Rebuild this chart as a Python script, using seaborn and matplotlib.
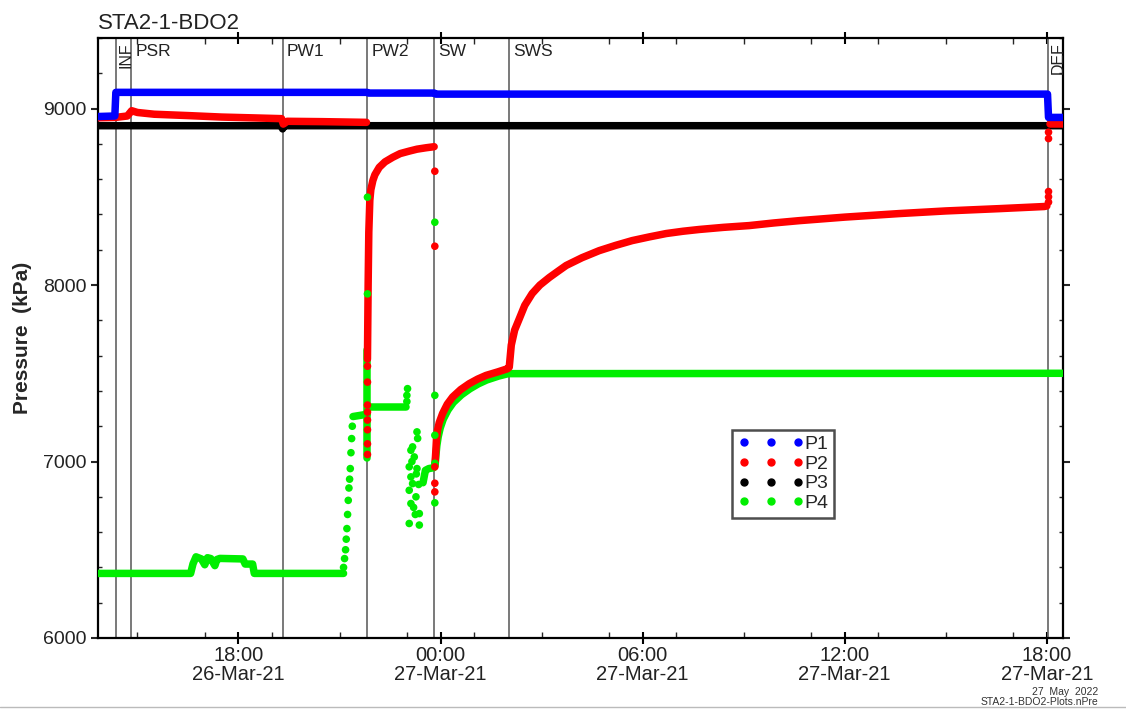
import numpy as np
import pandas as pd
import matplotlib
matplotlib.use("Agg")
import matplotlib.pyplot as plt
import matplotlib.dates as mdates
from matplotlib.lines import Line2D
from matplotlib.ticker import MultipleLocator
import seaborn as sns

# ---------------- data (time = hours after 26-Mar-21 00:00, pressure kPa) -------------
BASE = pd.Timestamp("2021-03-26 00:00")
X_START, X_END = 13.83, 42.48

events = ["INF", "PSR", "PW1", "PW2", "SW", "SWS", "DEF"]
event_hours = [14.35, 14.82, 19.31, 21.83, 23.82, 26.04, 42.03]
event_rotated = [True, False, False, False, False, False, True]

# P1 (blue)
p1_t = [13.83, 14.33, 14.36, 21.82, 21.86, 23.81, 23.86, 42.02, 42.05, 42.48]
p1_v = [8955, 8958, 9092, 9092, 9088, 9088, 9082, 9082, 8950, 8950]

# P2 (red) line segments
p2a_t = [13.83, 14.35, 14.70, 14.83, 15.00, 15.50, 16.55, 17.50, 18.50, 19.28, 19.33, 19.45, 20.50, 21.80]
p2a_v = [8948, 8950, 8958, 8988, 8978, 8968, 8960, 8952, 8947, 8943, 8912, 8928, 8926, 8922]
p2b_t = [21.83, 21.85, 21.87, 21.90, 21.93, 21.99, 22.05, 22.18, 22.35, 22.58, 22.80,
         23.07, 23.30, 23.57, 23.81]
p2b_v = [7580, 8000, 8300, 8480, 8540, 8592, 8625, 8667, 8698, 8724, 8745,
         8759, 8770, 8778, 8784]
p2c_t = [23.84, 23.86, 23.88, 23.91, 23.96, 24.06, 24.20, 24.36, 24.60, 24.85, 25.10,
         25.35, 25.70, 25.99, 26.04, 26.10, 26.20, 26.34, 26.50, 26.72, 26.95, 27.23,
         27.50, 27.73, 28.20, 28.71, 29.20, 29.69, 30.20, 30.70, 31.20, 31.68, 32.40,
         33.16, 33.90, 34.65, 36.00, 37.61, 39.00, 40.58, 41.92, 42.00]
p2c_v = [7000, 7060, 7130, 7177, 7220, 7272, 7325, 7366, 7408, 7441, 7467,
         7488, 7508, 7526, 7535, 7660, 7745, 7810, 7885, 7952, 8000, 8043,
         8080, 8111, 8155, 8195, 8225, 8252, 8273, 8292, 8305, 8315, 8327,
         8337, 8352, 8365, 8385, 8405, 8420, 8433, 8445, 8448]
p2d_t = [42.08, 42.48]
p2d_v = [8913, 8913]
# P2 isolated points
p2_dot_t = [21.83] * 8 + [23.83] * 5 + [42.05] * 5
p2_dot_v = [7040, 7100, 7180, 7235, 7280, 7320, 7450, 7540,
            8645, 8220, 6970, 6877, 6828,
            8470, 8500, 8530, 8830, 8866]

# P3 (black)
p3_t = [13.83, 19.28, 19.31, 19.36, 42.48]
p3_v = [8903, 8903, 8885, 8903, 8903]

# P4 (green) line segments
p4a_t = [13.83, 16.58, 16.65, 16.74, 16.90, 17.00, 17.08, 17.18, 17.30, 17.36, 17.45,
         18.13, 18.20, 18.42, 18.47, 21.12]
p4a_v = [6366, 6366, 6420, 6460, 6448, 6415, 6455, 6450, 6410, 6445, 6451,
         6448, 6419, 6419, 6366, 6366]
p4b_t = [21.40, 21.82]
p4b_v = [7255, 7268]
p4c_t = [21.83, 21.83]
p4c_v = [7020, 7630]
p4d_t = [21.84, 22.96]
p4d_v = [7310, 7310]
p4e_t = [23.48, 23.55, 23.65, 23.80]
p4e_v = [6880, 6950, 6960, 6965]
p4f_t = [23.84, 23.86, 23.89, 23.93, 23.99, 24.08, 24.22, 24.38, 24.62, 24.87, 25.12,
         25.37, 25.72, 26.01, 26.04, 42.48]
p4f_v = [6980, 7030, 7090, 7140, 7190, 7240, 7292, 7335, 7378, 7412, 7440,
         7462, 7484, 7498, 7498, 7500]
# P4 isolated points
p4_dot_t = [21.12, 21.15, 21.18, 21.20, 21.22, 21.24, 21.26, 21.28, 21.30, 21.32, 21.34, 21.36, 21.38,
            21.83, 21.83,
            23.00, 23.00, 23.02,
            23.30, 23.32, 23.17, 23.12, 23.22, 23.07, 23.12, 23.17, 23.07, 23.27,
            23.12, 23.37, 23.07, 23.37, 23.20, 23.25, 23.30, 23.15, 23.35, 23.28,
            23.83, 23.83, 23.83, 23.83, 23.83]
p4_dot_v = [6400, 6450, 6500, 6560, 6620, 6700, 6780, 6850, 6900, 6960, 7050, 7130, 7200,
            8498, 7950,
            7340, 7375, 7413,
            7168, 7131, 7083, 7064, 7026, 6970, 6913, 6875, 6837, 6800,
            6762, 6705, 6649, 6640, 6740, 6700, 6960, 7000, 6870, 6930,
            8356, 7375, 7149, 6990, 6766]

series_names = ["P1", "P2", "P3", "P4"]
series_colors = ["#0000ff", "#ff0000", "#000000", "#00ee00"]

# ---------------- build tables ----------------
def to_time(hours):
    return BASE + pd.to_timedelta(np.asarray(hours, dtype=float), unit="h")

line_parts = [
    ("P4", "P4a", p4a_t, p4a_v), ("P4", "P4b", p4b_t, p4b_v), ("P4", "P4c", p4c_t, p4c_v),
    ("P4", "P4d", p4d_t, p4d_v), ("P4", "P4e", p4e_t, p4e_v), ("P4", "P4f", p4f_t, p4f_v),
    ("P3", "P3a", p3_t, p3_v),
    ("P2", "P2a", p2a_t, p2a_v), ("P2", "P2b", p2b_t, p2b_v), ("P2", "P2c", p2c_t, p2c_v),
    ("P2", "P2d", p2d_t, p2d_v),
    ("P1", "P1a", p1_t, p1_v),
]
lines = pd.concat([
    pd.DataFrame({"time": to_time(t), "value": v, "series": s, "seg": g})
    for s, g, t, v in line_parts
], ignore_index=True)

dots = pd.concat([
    pd.DataFrame({"time": to_time(p4_dot_t), "value": p4_dot_v, "series": "P4"}),
    pd.DataFrame({"time": to_time(p2_dot_t), "value": p2_dot_v, "series": "P2"}),
], ignore_index=True)

palette = dict(zip(series_names, series_colors))

# ---------------- style ----------------
sns.set_style("ticks")
plt.rcParams["font.family"] = ["Liberation Sans", "DejaVu Sans"]
plt.rcParams["lines.solid_capstyle"] = "round"
plt.rcParams["lines.solid_joinstyle"] = "round"

fig = plt.figure(figsize=(11.26, 7.11), dpi=100)
ax = fig.add_axes([98 / 1126, 1 - 638 / 711, (1063 - 98) / 1126, (638 - 38) / 711])

# event lines
for name, h, rot in zip(events, event_hours, event_rotated):
    t = to_time([h])[0]
    ax.axvline(t, color="#6e6e6e", lw=1.3, zorder=1)
    if rot:
        ax.annotate(name, xy=(t, 1.0), xycoords=("data", "axes fraction"),
                    xytext=(2, -3), textcoords="offset points",
                    rotation=90, ha="left", va="top", fontsize=11.5, color="#222222")
    else:
        ax.annotate(name, xy=(t, 1.0), xycoords=("data", "axes fraction"),
                    xytext=(3, -4), textcoords="offset points",
                    ha="left", va="top", fontsize=12.5, color="#222222")

sns.lineplot(data=lines, x="time", y="value", hue="series", units="seg",
             estimator=None, sort=False, palette=palette,
             hue_order=["P4", "P3", "P2", "P1"], linewidth=5.4,
             legend=False, ax=ax, zorder=3)
sns.scatterplot(data=dots, x="time", y="value", hue="series", palette=palette,
                s=30, linewidth=0, legend=False, ax=ax, zorder=4)

# axes
ax.set_xlim(to_time([X_START])[0], to_time([X_END])[0])
ax.set_ylim(6000, 9400)
ax.yaxis.set_major_locator(MultipleLocator(1000))
ax.yaxis.set_minor_locator(MultipleLocator(200))
ax.xaxis.set_major_locator(mdates.HourLocator(byhour=[0, 6, 12, 18]))
ax.xaxis.set_minor_locator(mdates.HourLocator(interval=2))
ax.xaxis.set_major_formatter(mdates.DateFormatter("%H:%M\n%d-%b-%y"))

ax.set_xlabel("")
ax.set_ylabel("Pressure  (kPa)", fontsize=15, fontweight="bold", labelpad=8)

for sp in ax.spines.values():
    sp.set_linewidth(1.6)
    sp.set_color("black")

ax.tick_params(axis="x", which="major", direction="inout", length=8, width=1.5,
               top=True, bottom=True, labelsize=14.5, pad=2, colors="black")
ax.tick_params(axis="x", which="minor", direction="in", length=4, width=1,
               top=True, bottom=True)
ax.tick_params(axis="y", which="major", direction="out", length=5, width=1.5,
               left=True, right=True, labelsize=14, pad=3)
ax.tick_params(axis="y", which="minor", direction="in", length=3, width=1,
               left=True, right=True)
for lab in ax.get_xticklabels():
    lab.set_linespacing(0.95)
    lab.set_color("#222222")
for lab in ax.get_yticklabels():
    lab.set_color("#222222")

# legend
handles = [Line2D([], [], linestyle="none", marker="o", markersize=5,
                  markerfacecolor=c, markeredgecolor=c) for c in series_colors]
leg = ax.legend(handles, series_names, numpoints=3, loc="upper left",
                bbox_to_anchor=(0.657, 0.347), fontsize=14, frameon=True,
                fancybox=False, handlelength=3.4, handletextpad=0.0,
                labelspacing=0.1, borderpad=0.3, borderaxespad=0)
leg.get_frame().set_edgecolor("#222222")
leg.get_frame().set_linewidth(1.8)

# title and footers
fig.text(98 / 1126, 1 - 29 / 711, "STA2-1-BDO2", fontsize=16, ha="left",
         va="baseline", color="#222222")
fig.text(1098 / 1126, 1 - 695 / 711, "27  May  2022", fontsize=7.5, ha="right",
         va="baseline", color="#333333")
fig.text(1098 / 1126, 1 - 705 / 711, "STA2-1-BDO2-Plots.nPre", fontsize=7.5,
         ha="right", va="baseline", color="#333333")
fig.add_artist(Line2D([0, 1], [1 - 707 / 711, 1 - 707 / 711], color="#bbbbbb",
                      lw=1, transform=fig.transFigure))

fig.savefig("out.png", dpi=100, facecolor="white")
